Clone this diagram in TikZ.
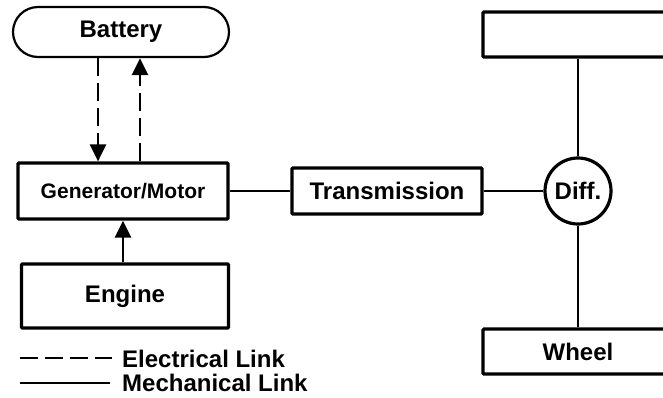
\documentclass[tikz,border=0pt]{standalone}
\usepackage{fontspec}
\setmainfont{Liberation Sans}
\usetikzlibrary{arrows.meta}
\begin{document}
\begin{tikzpicture}[x=1pt,y=-1pt,
  lbl/.style={font=\fontsize{24}{28}\selectfont\bfseries},
  blk/.style={draw,line width=3.2pt,rounded corners=1pt,inner sep=0pt,lbl},
  conn/.style={line width=2.8pt},
  elink/.style={line width=2.8pt,dash pattern=on 18pt off 7pt},
  tip/.style={-{Triangle[length=17pt,width=16pt]}}]
\useasboundingbox (0,0) rectangle (663,397);
\clip (0,0) rectangle (663,397);
\node[draw,line width=2.2pt,rounded corners=25pt,minimum width=216pt,minimum height=50pt,inner sep=0pt,lbl] (bat) at (121,32) {Battery};
\node[blk,minimum width=210pt,minimum height=56pt,font=\fontsize{21}{25}\selectfont\bfseries] (gm) at (123,191) {Generator/Motor};
\node[blk,minimum width=207pt,minimum height=64pt] (eng) at (125,296) {Engine};
\node[blk,minimum width=190pt,minimum height=46pt] (tr) at (387,191) {Transmission};
\node[draw,circle,line width=3.2pt,minimum size=66pt,inner sep=0pt,lbl] (diff) at (578,191) {Diff.};
\node[blk,minimum width=190pt,minimum height=45pt] (top) at (578,34.5) {};
\node[blk,minimum width=190pt,minimum height=45pt] (wh) at (578,351.5) {Wheel};
% connectors
\draw[elink,tip] (98,0 |- bat.south) -- (98,0 |- gm.north);
\draw[elink,tip] (140,0 |- gm.north) -- (140,0 |- bat.south);
\draw[conn,tip] (123,0 |- eng.north) -- (123,0 |- gm.south);
\draw[conn] (gm.east) -- (tr.west);
\draw[conn] (tr.east) -- (diff.west);
\draw[conn] (top.south) -- (diff.north);
\draw[conn] (diff.south) -- (wh.north);
% legend
\coordinate (e1) at (20,358);
\coordinate (e2) at (112,358);
\coordinate (m1) at (20,383);
\coordinate (m2) at (110,383);
\draw[elink] (e1) -- (e2);
\draw[conn] (m1) -- (m2);
\node[lbl,anchor=base west,inner sep=0pt] (el) at (122,367.5) {Electrical Link};
\node[lbl,anchor=base west,inner sep=0pt] (ml) at (122,391) {Mechanical Link};
\end{tikzpicture}
\end{document}
